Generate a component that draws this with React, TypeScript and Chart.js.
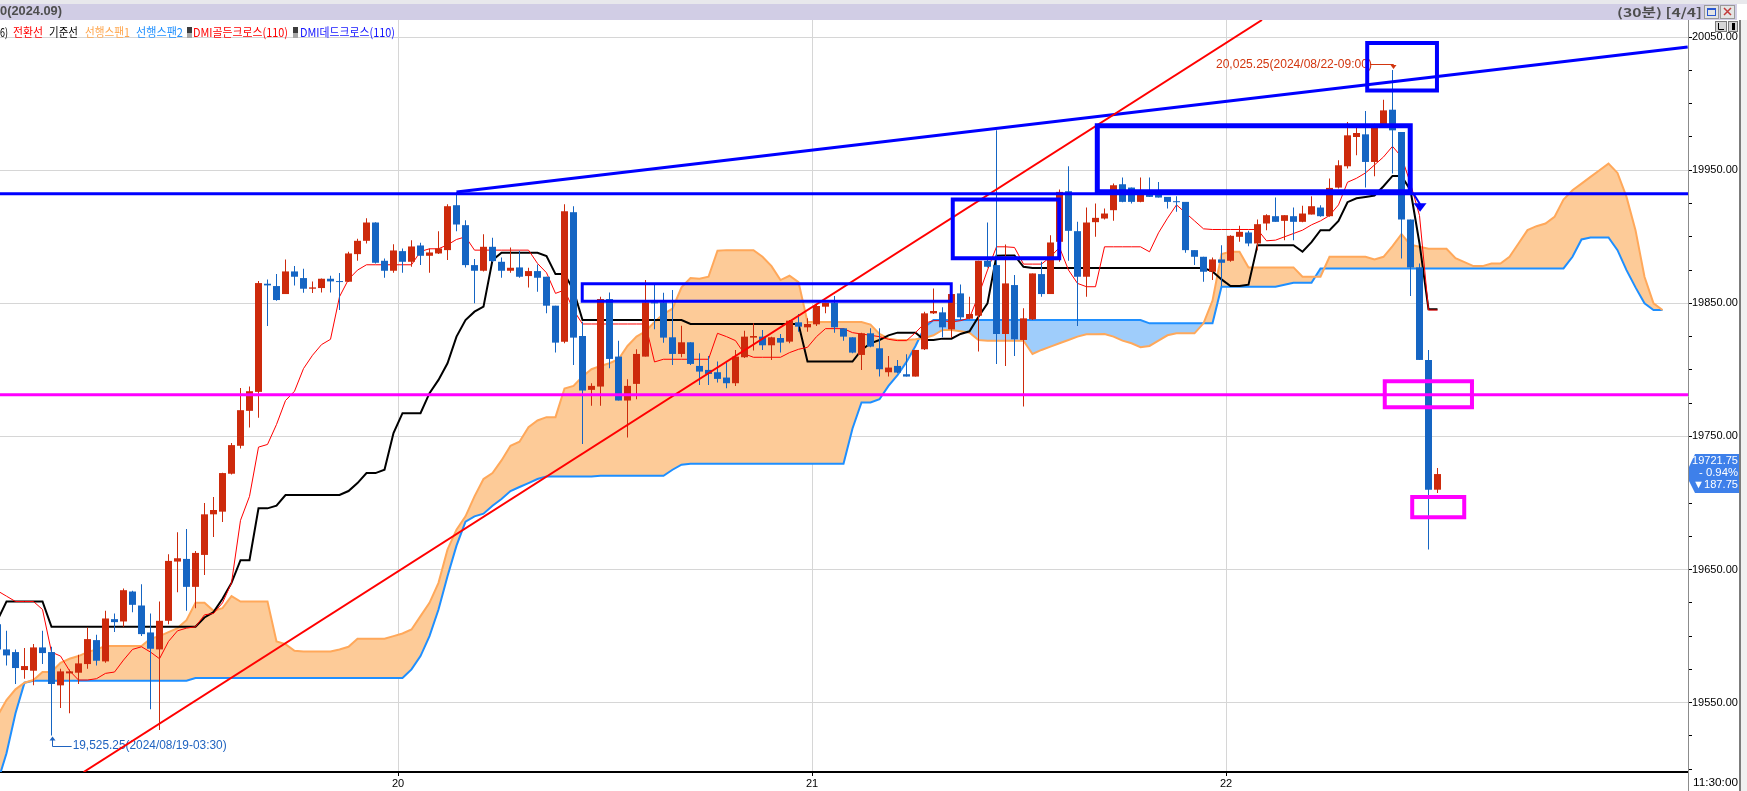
import React, { useEffect, useRef } from 'react';
import { Chart, registerables } from 'chart.js';

Chart.register(...registerables);

// ---------- DATA (30-minute candles, bar index j starts at FIRST_BAR) ----------
const FIRST_BAR = -1;

const OPEN = [
  19609, 19590, 19588, 19574.5, 19574, 19591.5, 19588, 19563, 19572, 19572.5,
  19579, 19597, 19581, 19612.75, 19611, 19633.5, 19623, 19602.75, 19590, 19611.5,
  19656, 19658, 19637, 19661, 19691.5, 19693.5, 19722, 19743, 19769.25, 19783.5,
  19864.75, 19863, 19857, 19874, 19869, 19861, 19861.5, 19868.5, 19866.5, 19866.25,
  19887, 19897, 19910.75, 19882, 19874.5, 19889.25, 19881.25, 19893.5, 19885.75, 19887.5,
  19890, 19923.75, 19908.75, 19878.75, 19874.5, 19892.5, 19881.25, 19874.5, 19877, 19870.5,
  19874.25, 19870, 19848.25, 19821.25, 19918.5, 19825.5, 19785, 19787.5, 19853.25, 19810,
  19777, 19789.5, 19810, 19850.75, 19850.75, 19824.5, 19812, 19820.75, 19803, 19800,
  19798.25, 19794.25, 19790, 19809.5, 19824.25, 19825, 19818.5, 19824, 19821.25, 19835.75,
  19832, 19834.25, 19847.5, 19850.5, 19831.25, 19824.5, 19811.25, 19827.5, 19816.25, 19798.25,
  19803, 19796.75, 19795, 19815.5, 19842.5, 19843.25, 19830.5, 19857.5, 19838.5, 19840.75,
  19882, 19878.75, 19827, 19863.75, 19822.5, 19838, 19872, 19857, 19896.25, 19934.25,
  19904.25, 19870, 19911, 19913.75, 19920, 19939.5, 19937, 19926.25, 19934.25, 19932,
  19930, 19926.5, 19926.25, 19890, 19885, 19873.75, 19883, 19882, 19900, 19903.25,
  19895, 19910, 19915.5, 19912, 19915.5, 19911.25, 19916.75, 19922, 19915.5, 19937,
  19953, 19975, 19977, 19956.25, 19982.5, 19995.5, 19978.75, 19913, 19877, 19807.5,
  19710,
];
const HIGH = [
  19614, 19604, 19590, 19591, 19594, 19604, 19592, 19575.5, 19575, 19586,
  19606.5, 19601, 19619, 19617, 19635.75, 19634, 19639, 19617, 19626, 19661.5,
  19678, 19680.5, 19664, 19700, 19704.5, 19722.75, 19745, 19786.5, 19787.5, 19866.75,
  19868, 19872, 19883, 19878, 19876, 19866.5, 19868.75, 19870.75, 19872.75, 19888.75,
  19898.5, 19914, 19911, 19883.75, 19894.5, 19891.25, 19897.5, 19895.5, 19891.25, 19904.25,
  19924.5, 19933.75, 19912.5, 19883.25, 19902, 19899.25, 19884.5, 19892, 19889.5, 19876.75,
  19879.25, 19870, 19848.25, 19924.5, 19923, 19836.25, 19790, 19855, 19858.25, 19822,
  19793, 19815.5, 19867.5, 19863.75, 19858, 19860, 19833.25, 19820.75, 19812.5, 19810.5,
  19806.25, 19805.5, 19815, 19829.5, 19835, 19830, 19825, 19827, 19837.5, 19842,
  19838.75, 19848.75, 19850.5, 19855.5, 19831.25, 19824.5, 19828, 19831.25, 19831.25, 19810.5,
  19807.5, 19811.75, 19815, 19843.75, 19861.25, 19847, 19857, 19864.25, 19855, 19882,
  19910.75, 19980, 19894.25, 19871.25, 19846.25, 19872.5, 19881.25, 19901.25, 19935.5, 19953,
  19911.25, 19922, 19925, 19921.25, 19940, 19944.5, 19937, 19944.5, 19944.5, 19941.25,
  19930, 19930.5, 19926.25, 19890, 19885, 19884.5, 19893.75, 19901.25, 19908.25, 19904.5,
  19913, 19917, 19929.5, 19916.25, 19922, 19923.25, 19930.5, 19923.75, 19943.75, 19957.5,
  19986.25, 19983, 19994.5, 19985, 20003, 20025.25, 19978.75, 19913, 19880, 19815,
  19726.25,
];
const LOW = [
  19586, 19578, 19564, 19568, 19563, 19579, 19525.25, 19546, 19542, 19564,
  19575.5, 19578, 19580, 19603, 19607, 19618, 19600, 19545, 19529.5, 19609,
  19633, 19619, 19621, 19646, 19674.5, 19685.75, 19721.5, 19741, 19756.75, 19764,
  19833, 19852, 19857, 19863.5, 19858, 19857.75, 19858.25, 19858.25, 19845, 19866,
  19882, 19895, 19880, 19869.25, 19873, 19873, 19877.5, 19878.75, 19873, 19887,
  19882.5, 19904.25, 19877, 19850, 19874, 19881, 19869.25, 19873, 19869.25, 19862,
  19858.75, 19842.5, 19813, 19820, 19803.75, 19744.25, 19773, 19773, 19801.25, 19777,
  19749.25, 19778, 19810, 19830.5, 19820.5, 19803.75, 19809.5, 19803.75, 19788.75, 19788.75,
  19790.5, 19786.25, 19788, 19809, 19814.5, 19815, 19807.5, 19813, 19820, 19828.75,
  19828.75, 19833, 19842.5, 19828, 19822, 19812.5, 19800, 19817, 19795, 19795,
  19797.5, 19795, 19795, 19815, 19842, 19824.5, 19824, 19837.5, 19838, 19813.75,
  19877, 19804.5, 19803, 19810.5, 19772.5, 19837.5, 19855, 19857, 19881.25, 19882,
  19833, 19855, 19900, 19913, 19912, 19926, 19925, 19926, 19930, 19929.5,
  19921.25, 19918.75, 19888, 19878.75, 19866.25, 19867.5, 19863, 19881.25, 19896.25, 19893,
  19890, 19905, 19911.25, 19897.5, 19897.5, 19911, 19916.75, 19915, 19915, 19936.25,
  19951.25, 19961.25, 19937, 19945.5, 19982.5, 19947.5, 19883.75, 19855.5, 19807.5, 19665,
  19707.5,
];
const CLOSE = [
  19590, 19585.5, 19576, 19577.5, 19591.5, 19587.25, 19564, 19573.5, 19573.5, 19579.5,
  19597.75, 19581.5, 19613.25, 19610.5, 19634.5, 19623.5, 19601.5, 19590.5, 19611.5, 19656.5,
  19658.5, 19637, 19662.5, 19691.5, 19694.75, 19722.5, 19743.5, 19769.75, 19784, 19865.25,
  19863.5, 19852.5, 19874, 19870, 19861, 19862, 19868.5, 19866.5, 19866, 19887.5,
  19897, 19910.75, 19880.5, 19874.5, 19889.75, 19881.25, 19892.75, 19885.75, 19888.25, 19891.25,
  19923, 19909.25, 19878.75, 19874.5, 19892.5, 19881.75, 19874.5, 19876.75, 19870, 19874.25,
  19869.25, 19848.25, 19820.5, 19919.25, 19824.25, 19784.5, 19788, 19853.25, 19808.25, 19777,
  19788, 19812, 19850.75, 19850, 19824.25, 19812, 19820.75, 19804.5, 19798.75, 19797,
  19793.25, 19790, 19810, 19825, 19825.5, 19818.5, 19824.5, 19820.5, 19837, 19832.5,
  19834.5, 19848, 19850.5, 19832, 19825, 19813, 19827.5, 19817.5, 19800.5, 19801.75,
  19798, 19795, 19815, 19842.5, 19844.25, 19832, 19857, 19839.5, 19842, 19882,
  19877.5, 19827, 19865, 19823, 19838.75, 19872.5, 19857, 19895.75, 19933.75, 19904.5,
  19870, 19910.75, 19914.25, 19917.5, 19938.75, 19926.25, 19926.25, 19932.5, 19930, 19929.5,
  19926.25, 19926, 19890, 19885, 19873.75, 19883, 19880.5, 19900.75, 19903.75, 19895,
  19909.5, 19916.25, 19911.25, 19916.25, 19911.25, 19917.5, 19923, 19915.5, 19936.75, 19953.75,
  19976.25, 19978, 19956.25, 19983.75, 19995, 19980, 19913, 19877, 19807.5, 19710,
  19721.75,
];

// 전환선 (conversion line), same bars as candles
const CONVERSION_LINE = [
  19634, 19630, 19626, 19626, 19626, 19620, 19588, 19585, 19574, 19567,
  19567, 19568, 19572, 19573, 19582, 19590, 19592, 19588, 19583, 19596,
  19604, 19606, 19607, 19616, 19617, 19625, 19640, 19687, 19705, 19742,
  19744, 19759, 19777, 19784, 19801, 19811, 19819, 19823, 19855, 19868,
  19875, 19879, 19879, 19879, 19879, 19879, 19879, 19889, 19891, 19891,
  19894, 19898, 19900, 19890, 19890, 19890, 19890, 19890, 19890, 19890,
  19880, 19873, 19857.5, 19860, 19845, 19834.5, 19834.5, 19834.5, 19834.5, 19834.5,
  19834.5, 19834.5, 19834.5, 19806, 19808, 19808, 19808, 19808, 19808, 19808,
  19827.5, 19825, 19822, 19812, 19809.5, 19809.5, 19809.5, 19809.5, 19813, 19815.5,
  19817, 19825, 19831, 19831, 19831, 19828, 19827, 19826, 19825, 19823,
  19822, 19822, 19828, 19835, 19837, 19837, 19836, 19837, 19839, 19856,
  19875, 19892.5, 19892.5, 19892, 19879.5, 19879.5, 19879.5, 19885, 19892, 19875,
  19865, 19862.5, 19862.5, 19892.5, 19892.5, 19892.5, 19892.5, 19892.5, 19888.75, 19903,
  19914, 19924, 19918, 19912, 19906, 19905.5, 19905.5, 19905.5, 19905.5, 19905.5,
  19905.5, 19897, 19897.5, 19900, 19902.5, 19905, 19909, 19912, 19916, 19924,
  19941, 19944, 19948, 19954, 19960, 19968, 19960, 19940, 19916, 19845,
  19845,
];
// 기준선 (base line)
const BASE_LINE = [
  19612, 19626, 19626, 19626, 19626, 19626, 19607, 19607, 19607, 19607,
  19607, 19607, 19607, 19607, 19607, 19607, 19607, 19607, 19607, 19607,
  19607, 19607, 19607, 19614, 19618, 19628, 19640, 19657, 19657, 19696,
  19696, 19698, 19706, 19706, 19706, 19706, 19706, 19706, 19706, 19709,
  19715, 19722.5, 19722.5, 19725, 19752.5, 19767.5, 19767.5, 19767.5, 19782.5, 19792.5,
  19805, 19825, 19837.5, 19843.75, 19847.5, 19882.5, 19888, 19888, 19888, 19888,
  19888, 19885.5, 19872, 19872, 19860, 19837.5, 19837.5, 19837.5, 19837.5, 19837.5,
  19837.5, 19837.5, 19837.5, 19837.5, 19837.5, 19837.5, 19837.5, 19834.5, 19834.5, 19834.5,
  19834.5, 19834.5, 19834.5, 19834.5, 19834.5, 19834.5, 19834.5, 19834.5, 19834.5, 19834.5,
  19806.25, 19806.25, 19806.25, 19806.25, 19806.25, 19806.25, 19815, 19820, 19822.5, 19826,
  19828, 19828, 19828, 19822.5, 19822.5, 19823.5, 19823.5, 19827, 19829, 19840,
  19850, 19885.75, 19886, 19886, 19877.5, 19876.5, 19876.5, 19876.5, 19876.5, 19876.5,
  19876.5, 19876.5, 19876.5, 19876.5, 19876.5, 19876.5, 19876.5, 19876.5, 19876.5, 19876.5,
  19876.5, 19876.5, 19876.5, 19876.5, 19876.5, 19874, 19868, 19863, 19863, 19864,
  19893.75, 19893.75, 19893.75, 19893.75, 19893.75, 19888.75, 19896, 19905, 19905, 19912,
  19926, 19929, 19930, 19931, 19938, 19945.75, 19945.75, 19935, 19895, 19845.5,
  19845.5,
];
// 선행스팬1 / 선행스팬2 (leading spans, reach 25 bars past the last candle)
const LEADING_SPAN1 = [
  19540, 19552, 19560, 19565, 19567, 19573, 19573, 19580, 19583, 19585,
  19588, 19590, 19592.5, 19592.5, 19592.5, 19592.5, 19592.5, 19598, 19600, 19603,
  19606, 19612, 19625, 19625, 19619, 19621, 19630, 19626, 19626, 19626,
  19626, 19596, 19594, 19589, 19588.5, 19588.5, 19588.5, 19588.5, 19590, 19592,
  19598, 19598, 19598, 19598, 19600, 19602, 19605, 19615, 19625, 19640,
  19665, 19680, 19690, 19705, 19718, 19722.5, 19732, 19743, 19746, 19757,
  19762, 19764.5, 19764.5, 19786, 19788, 19795, 19800.5, 19803, 19805, 19808,
  19818, 19825, 19829, 19836, 19842, 19846, 19862, 19869, 19868.5, 19870,
  19889.5, 19890, 19890, 19890, 19890, 19885, 19878, 19867.5, 19870.75, 19866,
  19836, 19836, 19836, 19836, 19836, 19836, 19836, 19834, 19827, 19823.5,
  19822.5, 19822.5, 19823, 19824, 19826, 19830, 19830, 19829, 19828, 19822.5,
  19822, 19822, 19822, 19822, 19822, 19812, 19815, 19817.5, 19820, 19822.5,
  19825, 19826.75, 19826.75, 19827, 19825, 19822, 19820, 19817, 19818, 19822,
  19826, 19827.5, 19827.5, 19827.5, 19835, 19852, 19887, 19888.75, 19888.75, 19877,
  19877, 19877, 19877, 19877, 19877, 19870, 19870, 19870, 19885, 19885,
  19885, 19885, 19885, 19883, 19885, 19893, 19902, 19894, 19892.5, 19891,
  19891, 19891, 19884, 19881, 19878, 19878, 19880, 19880, 19885, 19895,
  19905, 19908, 19910, 19915, 19928, 19935, 19940, 19945, 19950, 19955,
  19948, 19930, 19905, 19870, 19850, 19845,
];
const LEADING_SPAN2 = [
  19490, 19512, 19542, 19565, 19566.5, 19566.5, 19566.5, 19566.5, 19566.5, 19566.5,
  19566.5, 19566.5, 19566.5, 19566.5, 19566.5, 19566.5, 19566.5, 19566.5, 19566.5, 19566.5,
  19566.5, 19566.5, 19568.5, 19568.5, 19568.5, 19568.5, 19568.5, 19568.5, 19568.5, 19568.5,
  19568.5, 19568.5, 19568.5, 19568.5, 19568.5, 19568.5, 19568.5, 19568.5, 19568.5, 19568.5,
  19568.5, 19568.5, 19568.5, 19568.5, 19568.5, 19568.5, 19575, 19585, 19600, 19620,
  19645, 19668, 19686, 19690, 19692, 19698, 19703, 19709, 19712, 19715,
  19718, 19720, 19720, 19720, 19720, 19720, 19720, 19720.5, 19720.5, 19720.5,
  19720.5, 19720.5, 19720.5, 19720.5, 19720.5, 19725, 19728.75, 19729.5, 19729.5, 19729.5,
  19729.5, 19729.5, 19729.5, 19729.5, 19729.5, 19729.5, 19729.5, 19729.5, 19729.5, 19729.5,
  19729.5, 19729.5, 19729.5, 19729.5, 19729.5, 19756, 19775.5, 19775.5, 19778, 19788,
  19796, 19806, 19818, 19832, 19837.5, 19837.5, 19837.5, 19837.5, 19837.5, 19837.5,
  19837.5, 19837.5, 19837.5, 19837.5, 19837.5, 19837.5, 19837.5, 19837.5, 19837.5, 19837.5,
  19837.5, 19837.5, 19837.5, 19837.5, 19837.5, 19837.5, 19837.5, 19837.5, 19835, 19835,
  19835, 19835, 19835, 19835, 19835, 19835, 19862.5, 19862.5, 19862.5, 19862.5,
  19862.5, 19862.5, 19862.5, 19864, 19865.5, 19865.5, 19865.5, 19876.25, 19876.25, 19876.25,
  19876.25, 19876.25, 19876.25, 19876.25, 19876.25, 19876.25, 19876.25, 19876.25, 19876.25, 19876.25,
  19876.25, 19876.25, 19876.25, 19876.25, 19876.25, 19876.25, 19876.25, 19876.25, 19876.25, 19876.25,
  19876.25, 19876.25, 19876.25, 19876.25, 19876.25, 19885, 19898, 19899.5, 19899.5, 19899.5,
  19890, 19875, 19862, 19850, 19845, 19845,
];

// axis ticks & labels
const DAY_TICK_BARS = [43.5, 89.5, 135.5];
const DAY_TICK_LABELS = ['20', '21', '22'];
const Y_TICK_VALUES = [
  19500, 19525, 19550, 19575, 19600, 19625, 19650, 19675, 19700, 19725, 19750, 19775,
  19800, 19825, 19850, 19875, 19900, 19925, 19950, 19975, 20000, 20025, 20050,
];
const Y_LABEL_VALUES = [19550, 19650, 19750, 19850, 19950, 20050];
const LAST_TIME_LABEL = '11:30:00';
const LAST_PRICE = 19721.75;
const LAST_CHANGE_PCT = '- 0.94%';
const LAST_CHANGE = '▼187.75';
const TITLE_TEXT = '0(2024.09)';
const PERIOD_TEXT = '(30분) [4/4]';
const LEGEND_TEXTS = ['6)', '전환선', '기준선', '선행스팬1', '선행스팬2', 'DMI골든크로스(110)', 'DMI데드크로스(110)'];

// drawn studies (in bar / price units)
const H_LEVEL_BLUE = 19932.4;
const H_LEVEL_MAGENTA = 19781.4;
const RED_TREND = [{ x: 8.57, y: 19497.9 }, { x: 139.5, y: 20062.9 }];
const BLUE_TREND = [{ x: 50, y: 19933.75 }, { x: 186.8, y: 20042.6 }];
const BLUE_BOXES = [
  { x0: 63.97, x1: 104.97, y0: 19864.8, y1: 19851.5 },
  { x0: 105.14, x1: 116.97, y0: 19928.0, y1: 19883.9 },
  { x0: 121.2, x1: 155.97, y0: 19983.4, y1: 19933.9 },
  { x0: 151.19, x1: 158.94, y0: 20045.6, y1: 20010.0 },
];
const MAGENTA_BOXES = [
  { x0: 153.14, x1: 162.83, y0: 19791.4, y1: 19772.0 },
  { x0: 156.19, x1: 161.97, y0: 19704.5, y1: 19689.3 },
];
const DOWN_ARROW = { fromBar: 156.3, fromPrice: 19932.7, tipBar: 157.06, basePrice: 19925.2, tipPrice: 19918.9 };
const HIGH_NOTE = { text: '20,025.25(2024/08/22-09:00)', bar: 154, price: 20025.25, labelPrice: 20030.2, textEndBar: 151.05 };
const LOW_NOTE = { text: '19,525.25(2024/08/19-03:30)', bar: 5, price: 19525.25, labelPrice: 19517.6, textStartBar: 7.35 };

// ---------- LAYOUT / STYLE ----------
const W = 1747;
const H = 791;
const PLOT_RIGHT = 1688;
const PLOT_TOP = 20;
const PLOT_BOTTOM = 772;
const X_MIN = -6.5 / 9;
const X_MAX = X_MIN + PLOT_RIGHT / 9;
const Y_MIN = 19497.9;
const Y_MAX = 20062.9;
const UP_COLOR = '#cd2a0c';
const DOWN_COLOR = '#1565c3';
const UI_FONT = '"Liberation Sans", "DejaVu Sans", Arial, sans-serif';
const KR_FONT = '"Noto Sans CJK KR", "Liberation Sans", sans-serif';

function drawFit(ctx: any, text: string, x: number, y: number, width: number, font: string, color: string, align = 'left') {
  ctx.save();
  ctx.font = font;
  ctx.fillStyle = color;
  ctx.textBaseline = 'middle';
  ctx.textAlign = 'left';
  const natural = ctx.measureText(text).width || 1;
  const sx = width / natural;
  const startX = align === 'right' ? x - width : x;
  ctx.translate(startX, y);
  ctx.scale(sx, 1);
  ctx.fillText(text, 0, 0);
  ctx.restore();
}

const decorPlugin = {
  id: 'decor',
  beforeDraw(chart: any) {
    const ctx = chart.ctx;
    ctx.save();
    ctx.fillStyle = '#ffffff';
    ctx.fillRect(0, 0, chart.width, chart.height);
    ctx.restore();
  },
  beforeDatasetsDraw(chart: any) {
    const { ctx, scales } = chart;
    const xs = scales.x;
    const ys = scales.y;
    ctx.save();
    // high note
    const hy = Math.round(ys.getPixelForValue(HIGH_NOTE.labelPrice)) + 0.5;
    const hEnd = xs.getPixelForValue(HIGH_NOTE.textEndBar);
    drawFit(ctx, HIGH_NOTE.text, hEnd + 6, hy, 156, '12px ' + UI_FONT, '#d2360f', 'right');
    const hx = Math.round(xs.getPixelForValue(HIGH_NOTE.bar)) + 0.5;
    const hTip = ys.getPixelForValue(HIGH_NOTE.price) - 2;
    ctx.strokeStyle = '#d2360f';
    ctx.lineWidth = 1;
    ctx.beginPath();
    ctx.moveTo(hEnd + 4, hy);
    ctx.lineTo(hx, hy);
    ctx.lineTo(hx, hTip);
    ctx.stroke();
    ctx.fillStyle = '#d2360f';
    ctx.beginPath();
    ctx.moveTo(hx - 3, hTip - 3);
    ctx.lineTo(hx + 3, hTip - 3);
    ctx.lineTo(hx, hTip + 1);
    ctx.closePath();
    ctx.fill();
    // low note
    const lx = Math.round(xs.getPixelForValue(LOW_NOTE.bar)) + 0.5;
    const lTip = ys.getPixelForValue(LOW_NOTE.price) + 1;
    const ly = Math.round(ys.getPixelForValue(LOW_NOTE.labelPrice)) + 0.5;
    const lText = xs.getPixelForValue(LOW_NOTE.textStartBar);
    ctx.strokeStyle = '#1f63c0';
    ctx.fillStyle = '#1f63c0';
    ctx.beginPath();
    ctx.moveTo(lx, lTip + 3);
    ctx.lineTo(lx, ly);
    ctx.lineTo(lText - 1, ly);
    ctx.stroke();
    ctx.beginPath();
    ctx.moveTo(lx - 3, lTip + 4);
    ctx.lineTo(lx + 3, lTip + 4);
    ctx.lineTo(lx, lTip);
    ctx.closePath();
    ctx.fill();
    drawFit(ctx, LOW_NOTE.text, lText, ly - 1, 154, '12px ' + UI_FONT, '#1f63c0');
    ctx.restore();
  },
  afterDatasetsDraw(chart: any) {
    const { ctx, scales } = chart;
    const xs = scales.x;
    const ys = scales.y;
    ctx.save();
    const x0 = xs.getPixelForValue(DOWN_ARROW.fromBar);
    const y0 = ys.getPixelForValue(DOWN_ARROW.fromPrice);
    const x1 = xs.getPixelForValue(DOWN_ARROW.tipBar);
    const yb = ys.getPixelForValue(DOWN_ARROW.basePrice);
    const yt = ys.getPixelForValue(DOWN_ARROW.tipPrice);
    ctx.strokeStyle = '#0000ff';
    ctx.fillStyle = '#0000ff';
    ctx.lineWidth = 2;
    ctx.beginPath();
    ctx.moveTo(x0, y0);
    ctx.lineTo(x1, yb + 1);
    ctx.stroke();
    ctx.beginPath();
    ctx.moveTo(x1 - 6.5, yb);
    ctx.lineTo(x1 + 6.5, yb);
    ctx.lineTo(x1, yt);
    ctx.closePath();
    ctx.fill();
    ctx.restore();
  },
  afterDraw(chart: any) {
    const { ctx, scales } = chart;
    const ys = scales.y;
    ctx.save();
    // header band
    ctx.fillStyle = '#e8e8ec';
    ctx.fillRect(0, 0, W, 4);
    ctx.fillStyle = '#d1cde5';
    ctx.fillRect(0, 4, W, 16);
    drawFit(ctx, TITLE_TEXT, 0, 12, 62, 'bold 12px ' + UI_FONT, '#4e4e4e');
    drawFit(ctx, PERIOD_TEXT, 1617, 12, 85, 'bold 12px ' + KR_FONT, '#4e4e4e');
    // window buttons
    ctx.fillStyle = '#e4e4e4';
    ctx.fillRect(1704, 5, 15, 14);
    ctx.fillRect(1720, 5, 15, 14);
    ctx.strokeStyle = '#9a9a9a';
    ctx.lineWidth = 1;
    ctx.strokeRect(1704.5, 5.5, 14, 13);
    ctx.strokeRect(1720.5, 5.5, 14, 13);
    ctx.strokeStyle = '#2a58d0';
    ctx.strokeRect(1707.5, 8.5, 8, 7);
    ctx.fillStyle = '#2a58d0';
    ctx.fillRect(1707, 8, 9, 2);
    ctx.strokeStyle = '#c23a3a';
    ctx.lineWidth = 1.5;
    ctx.beginPath();
    ctx.moveTo(1724, 8); ctx.lineTo(1731, 15);
    ctx.moveTo(1731, 8); ctx.lineTo(1724, 15);
    ctx.stroke();
    ctx.fillStyle = '#ffffff';
    ctx.fillRect(1737, 4, 10, 16);
    // small buttons above price axis
    ctx.fillStyle = '#d6d6d6';
    ctx.fillRect(1715, 21, 12, 11);
    ctx.fillRect(1728, 21, 10, 11);
    ctx.strokeStyle = '#7a7a7a';
    ctx.lineWidth = 1;
    ctx.strokeRect(1715.5, 21.5, 11, 10);
    ctx.strokeRect(1728.5, 21.5, 9, 10);
    ctx.strokeStyle = '#000';
    ctx.beginPath();
    ctx.moveTo(1718.5, 23); ctx.lineTo(1718.5, 29.5); ctx.lineTo(1724, 29.5);
    ctx.moveTo(1733, 23); ctx.lineTo(1733, 30);
    ctx.stroke();
    ctx.fillStyle = '#000';
    ctx.fillRect(1732, 23, 3, 7);
    // right tool strip
    ctx.fillStyle = '#f1f1f1';
    ctx.fillRect(1741, 20, 6, H - 20);
    ctx.fillStyle = '#7c7c7c';
    ctx.fillRect(1739, 20, 2, H - 20);
    // price axis line to the bottom
    ctx.strokeStyle = '#8c8c8c';
    ctx.beginPath();
    ctx.moveTo(PLOT_RIGHT + 0.5, PLOT_BOTTOM);
    ctx.lineTo(PLOT_RIGHT + 0.5, H);
    ctx.stroke();
    // legend
    const legendX = [0, 13, 49, 85, 136, 193, 300];
    const legendW = [8, 30, 29, 45, 47, 95, 95];
    const legendC = ['#000000', '#ff0000', '#000000', '#ffa64d', '#1e8fff', '#ff0000', '#1414ff'];
    LEGEND_TEXTS.forEach((t, i) => {
      drawFit(ctx, t, legendX[i], 32, legendW[i], '12px ' + KR_FONT, legendC[i]);
    });
    [187, 293].forEach((ix) => {
      ctx.fillStyle = '#3c3c3c';
      ctx.fillRect(ix, 27, 5, 6);
      ctx.fillStyle = '#a8a8a8';
      ctx.fillRect(ix, 33, 5, 5);
    });
    // current price box
    const py = ys.getPixelForValue(LAST_PRICE);
    ctx.fillStyle = '#3e80ea';
    ctx.beginPath();
    ctx.moveTo(1695, py - 20);
    ctx.lineTo(1739, py - 20);
    ctx.lineTo(1739, py + 19);
    ctx.lineTo(1695, py + 19);
    ctx.lineTo(1689, py + 7);
    ctx.lineTo(1689, py - 7);
    ctx.closePath();
    ctx.fill();
    drawFit(ctx, LAST_PRICE.toFixed(2), 1692, py - 13, 46, '11px ' + UI_FONT, '#ffffff');
    drawFit(ctx, LAST_CHANGE_PCT, 1699, py - 1, 39, '11px ' + UI_FONT, '#ffffff');
    drawFit(ctx, LAST_CHANGE, 1693, py + 11, 45, '11px ' + UI_FONT, '#ffffff');
    // last time label
    drawFit(ctx, LAST_TIME_LABEL, 1693, 783, 45, '11px ' + UI_FONT, '#000000');
    ctx.restore();
  },
};

export default function App() {
  const canvasRef = useRef<HTMLCanvasElement | null>(null);

  useEffect(() => {
    document.body.style.margin = '0';
    const canvas = canvasRef.current;
    if (!canvas) return;

    const barX = OPEN.map((_, i) => i + FIRST_BAR);
    const candleColors = OPEN.map((o, i) => (CLOSE[i] >= o ? UP_COLOR : DOWN_COLOR));
    const wickData = barX.map((x, i) => ({ x, y: [LOW[i], HIGH[i]] }));
    const bodyData = barX.map((x, i) => ({ x, y: [OPEN[i], CLOSE[i]] }));
    const convData = barX.map((x, i) => ({ x, y: CONVERSION_LINE[i] }));
    const baseData = barX.map((x, i) => ({ x, y: BASE_LINE[i] }));
    const spanX = LEADING_SPAN1.map((_, i) => i + FIRST_BAR);
    const span1Data = spanX.map((x, i) => ({ x, y: LEADING_SPAN1[i] }));
    const span2Data = spanX.map((x, i) => ({ x, y: LEADING_SPAN2[i] }));

    const lineDs = (data: any[], color: string, width: number, order: number, extra: any = {}) => ({
      type: 'line',
      data,
      borderColor: color,
      backgroundColor: color,
      borderWidth: width,
      pointRadius: 0,
      pointHoverRadius: 0,
      tension: 0,
      fill: false,
      order,
      ...extra,
    });
    const boxPts = (b: any) => [
      { x: b.x0, y: b.y0 }, { x: b.x1, y: b.y0 }, { x: b.x1, y: b.y1 }, { x: b.x0, y: b.y1 }, { x: b.x0, y: b.y0 },
    ];
    const boxStyle = { borderCapStyle: 'square', borderJoinStyle: 'miter' };
    const blueBoxWidths = [3, 4, 5, 4];

    const datasets: any[] = [
      ...BLUE_BOXES.map((b, k) => lineDs(boxPts(b), '#0000ff', blueBoxWidths[k], 0, boxStyle)),
      ...MAGENTA_BOXES.map((b) => lineDs(boxPts(b), '#ff00ff', 4, 0, boxStyle)),
      lineDs([{ x: X_MIN, y: H_LEVEL_BLUE }, { x: X_MAX, y: H_LEVEL_BLUE }], '#0000ff', 3, 0),
      lineDs([{ x: X_MIN, y: H_LEVEL_MAGENTA }, { x: X_MAX, y: H_LEVEL_MAGENTA }], '#ff00ff', 3, 0),
      lineDs(RED_TREND, '#ff0000', 2, 0),
      lineDs(BLUE_TREND, '#0000ff', 3, 0),
      {
        type: 'bar', data: bodyData, backgroundColor: candleColors, barThickness: 7, grouped: false,
        minBarLength: 1, borderWidth: 0, inflateAmount: 0, order: 1,
      },
      {
        type: 'bar', data: wickData, backgroundColor: candleColors, barThickness: 1, grouped: false,
        borderWidth: 0, inflateAmount: 0, order: 2,
      },
      lineDs(convData, '#ff0000', 1, 3),
      lineDs(baseData, '#000000', 2, 4),
      lineDs(span1Data, '#ffa85a', 2, 5, { fill: { target: '+1', above: '#fdcb98', below: '#9fcdfb' } }),
      lineDs(span2Data, '#1e8fff', 2, 6),
    ];

    const chart = new Chart(canvas, {
      type: 'bar',
      data: { datasets },
      options: {
        responsive: false,
        maintainAspectRatio: false,
        animation: false,
        devicePixelRatio: 1,
        events: [],
        layout: { padding: { left: 0, right: 0, top: PLOT_TOP, bottom: 0 } },
        plugins: {
          legend: { display: false },
          tooltip: { enabled: false },
          title: { display: false },
          filler: { propagate: false, drawTime: 'beforeDatasetsDraw' },
        },
        scales: {
          x: {
            type: 'linear',
            position: 'bottom',
            min: X_MIN,
            max: X_MAX,
            bounds: 'data',
            offset: false,
            afterBuildTicks: (s: any) => { s.ticks = DAY_TICK_BARS.map((v) => ({ value: v })); },
            afterFit: (s: any) => { s.height = H - PLOT_BOTTOM; },
            ticks: {
              autoSkip: false,
              maxRotation: 0,
              padding: 1,
              color: '#000000',
              font: { family: UI_FONT, size: 11 },
              callback: (v: any) => {
                const k = DAY_TICK_BARS.indexOf(v);
                return k >= 0 ? DAY_TICK_LABELS[k] : '';
              },
            },
            grid: { color: '#d6d6d6', offset: false, drawTicks: true, tickLength: 4, tickColor: '#000000' },
            border: { display: true, color: '#000000', width: 2 },
          },
          y: {
            type: 'linear',
            position: 'right',
            min: Y_MIN,
            max: Y_MAX,
            bounds: 'data',
            beginAtZero: false,
            afterBuildTicks: (s: any) => { s.ticks = Y_TICK_VALUES.map((v) => ({ value: v })); },
            afterFit: (s: any) => { s.width = W - PLOT_RIGHT; },
            ticks: {
              padding: 0,
              color: '#000000',
              font: { family: UI_FONT, size: 11 },
              callback: (v: any) => (Y_LABEL_VALUES.includes(v) ? Number(v).toFixed(2) : ''),
            },
            grid: {
              color: (c: any) => (c.tick && Y_LABEL_VALUES.includes(c.tick.value) ? '#d6d6d6' : 'rgba(0,0,0,0)'),
              drawTicks: true,
              tickLength: 4,
              tickColor: '#000000',
            },
            border: { display: true, color: '#8c8c8c', width: 1 },
          },
        },
      } as any,
      plugins: [decorPlugin as any],
    } as any);

    return () => chart.destroy();
  }, []);

  return (
    <div style={{ width: W, height: H, position: 'relative', overflow: 'hidden' }}>
      <canvas ref={canvasRef} width={W} height={H} style={{ display: 'block', width: W, height: H }} />
    </div>
  );
}
